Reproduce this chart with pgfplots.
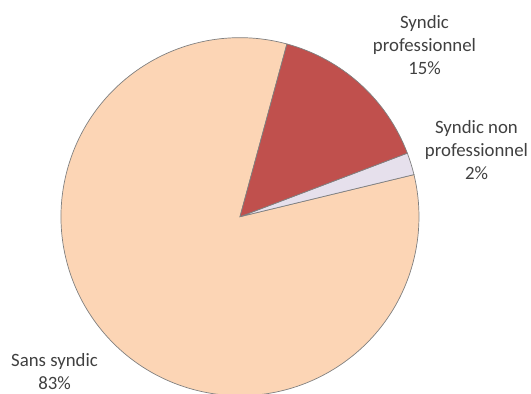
\documentclass[border=0pt]{standalone}
\usepackage{pgfplots}
\pgfplotsset{compat=1.18}
\usepackage{fontspec}
\setmainfont{Carlito}

\definecolor{peach}{HTML}{FCD5B5}
\definecolor{brick}{HTML}{C0504D}
\definecolor{lilac}{HTML}{E6E0EC}
\definecolor{edge}{HTML}{808080}
\definecolor{txt}{HTML}{404040}

% shares in percent, counter-clockwise from the first boundary
\pgfmathsetmacro\aA{74.8}
\pgfmathsetmacro\aB{\aA+83*3.6}% Sans syndic
\pgfmathsetmacro\aC{\aB+2*3.6}% Syndic non professionnel
\pgfmathsetmacro\aD{\aC+15*3.6}% Syndic professionnel

\begin{document}
\begin{tikzpicture}
\useasboundingbox (0,0) rectangle (531pt,394pt);
\begin{axis}[
    at={(0,0)}, anchor=south west,
    width=531pt, height=394pt, scale only axis,
    xmin=0, xmax=531, ymin=0, ymax=394,
    hide axis, clip=false,
]
\filldraw[fill=peach, draw=edge, line width=0.7pt]
  (axis cs:240,177.3) -- ++(\aA:179pt) arc[start angle=\aA, end angle=\aB, radius=179pt] -- cycle;
\filldraw[fill=lilac, draw=edge, line width=0.7pt]
  (axis cs:240,177.3) -- ++(\aB:179pt) arc[start angle=\aB, end angle=\aC, radius=179pt] -- cycle;
\filldraw[fill=brick, draw=edge, line width=0.7pt]
  (axis cs:240,177.3) -- ++(\aC:179pt) arc[start angle=\aC, end angle=\aD, radius=179pt] -- cycle;

\begin{scope}[every node/.style={align=center, text=txt, font=\fontsize{18.8}{23}\selectfont}]
\node at (axis cs:424.5,349) {Syndic\\professionnel\\15\%};
\node at (axis cs:476.5,244) {Syndic non\\professionnel\\2\%};
\node at (axis cs:54.5,22) {Sans syndic\\83\%};
\end{scope}
\end{axis}
\end{tikzpicture}
\end{document}
